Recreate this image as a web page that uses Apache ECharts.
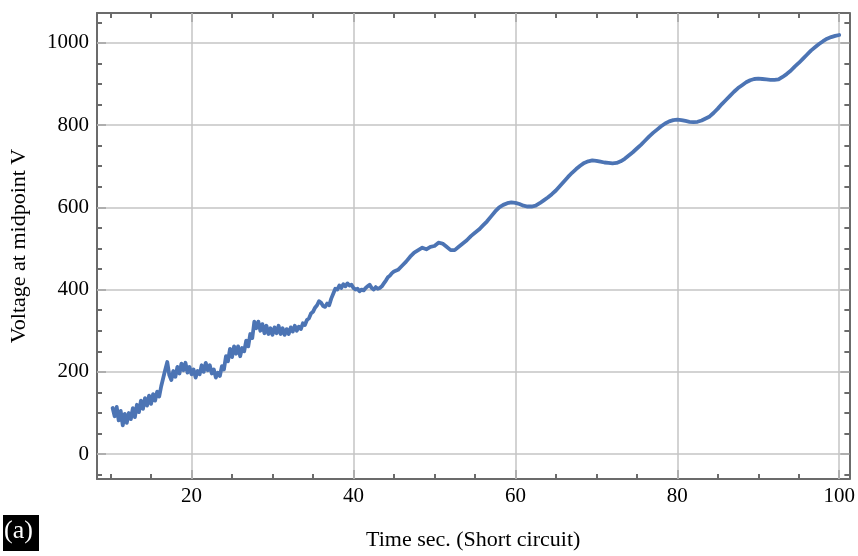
<!DOCTYPE html>
<html>
<head>
<meta charset="utf-8">
<script src="https://cdn.jsdelivr.net/npm/echarts@6/dist/echarts.min.js"></script>
<style>
html,body{margin:0;padding:0;background:#fff;}
#chart{width:858px;height:556px;}
</style>
</head>
<body>
<div id="chart"></div>
<script>
// ---- data ----
const time = [
10.25,10.5,10.75,11,11.25,11.5,11.75,12,12.25,12.5,12.75,13,13.25,13.5,13.75,14,14.25,14.5,14.75,15,
15.25,15.5,15.75,16,16.25,16.5,16.75,17,17.25,17.5,17.75,18,18.25,18.5,18.75,19,19.25,19.5,19.75,20,
20.25,20.5,20.75,21,21.25,21.5,21.75,22,22.25,22.5,22.75,23,23.25,23.5,23.75,24,24.25,24.5,24.75,25,
25.25,25.5,25.75,26,26.25,26.5,26.75,27,27.25,27.5,27.75,28,28.25,28.5,28.75,29,29.25,29.5,29.75,30,
30.25,30.5,30.75,31,31.25,31.5,31.75,32,32.25,32.5,32.75,33,33.25,33.5,33.75,34,34.25,34.5,34.75,35,
35.25,35.5,35.75,36,36.25,36.5,36.75,37,37.25,37.5,37.75,38,38.25,38.5,38.75,39,39.25,39.5,39.75,40,
40.25,40.5,40.75,41,41.25,41.5,41.75,42,42.25,42.5,42.75,43,43.25,43.5,43.75,44,44.25,44.5,44.75,45,
45.5,46,46.5,47,47.5,48,48.5,49,49.5,50,50.5,51,51.5,52,52.5,53,53.5,54,54.5,55,
55.5,56,56.5,57,57.5,58,58.5,59,59.5,60,60.5,61,61.5,62,62.5,63,63.5,64,64.5,65,
65.5,66,66.5,67,67.5,68,68.5,69,69.5,70,70.5,71,71.5,72,72.5,73,73.5,74,74.5,75,
75.5,76,76.5,77,77.5,78,78.5,79,79.5,80,80.5,81,81.5,82,82.5,83,83.5,84,84.5,85,
85.5,86,86.5,87,87.5,88,88.5,89,89.5,90,90.5,91,91.5,92,92.5,93,93.5,94,94.5,95,
95.5,96,96.5,97,97.5,98,98.5,99,99.5,100
];
const voltage = [
112,92,115,82,105,70,98,76,100,85,112,90,120,102,130,110,136,118,142,122,
146,130,152,140,165,185,205,224,192,180,202,188,212,196,220,204,222,198,212,194,
206,186,202,194,216,200,222,204,216,196,206,186,198,190,214,206,238,226,256,236,
262,244,262,238,258,250,276,262,292,282,322,306,322,300,316,294,312,292,306,290,
308,294,312,292,306,290,304,292,308,298,312,300,310,304,318,314,326,330,342,346,
356,362,372,368,360,358,366,362,378,390,402,400,410,404,413,408,415,410,412,404,
400,402,396,400,398,404,408,412,404,400,406,402,404,408,415,422,430,434,440,444,
448,458,468,480,490,496,502,498,504,506,514,512,504,496,496,504,512,520,530,538,
546,556,566,578,590,600,606,610,612,611,608,604,602,602,604,610,617,624,632,641,
652,663,674,684,693,701,708,712,714,713,711,709,708,707,708,712,718,726,734,743,
752,762,772,781,789,797,804,809,812,813,812,810,808,807,808,811,816,821,830,840,
851,861,871,881,890,897,904,909,912,913,912,911,910,910,911,917,924,932,942,951,
961,971,981,989,997,1004,1010,1014,1017,1019
];
const xTicks = [20, 40, 60, 80, 100];
const xMinorTicks = [10, 15, 25, 30, 35, 45, 50, 55, 65, 70, 75, 85, 90, 95];
const yTicks = [0, 200, 400, 600, 800, 1000];
const yMinorTicks = [-50, 50, 100, 150, 250, 300, 350, 450, 500, 550, 650, 700, 750, 850, 900, 950, 1050];

const points = time.map((t, i) => [t, voltage[i]]);

const XMIN = 8.32, XMAX = 101.25, YMIN = -60.5, YMAX = 1072.5;
const frameColor = '#6b6b6b';
const font = 'Liberation Serif';

function xAx(pos, custom, len, labels, line) {
  return {
    type: 'value', min: XMIN, max: XMAX, position: pos,
    axisLine: { show: line, onZero: false, lineStyle: { color: frameColor, width: 2 } },
    axisTick: { show: true, inside: true, length: len, customValues: custom, lineStyle: { color: frameColor, width: 2 } },
    axisLabel: labels ? { show: true, customValues: custom, color: '#000', fontFamily: font, fontSize: 21, margin: 7, formatter: v => String(v) } : { show: false },
    splitLine: { show: false },
    nameTextStyle: { fontFamily: font, fontSize: 22, color: '#000' }
  };
}
function yAx(pos, custom, len, labels, line) {
  return {
    type: 'value', min: YMIN, max: YMAX, position: pos,
    axisLine: { show: line, onZero: false, lineStyle: { color: frameColor, width: 2 } },
    axisTick: { show: true, inside: true, length: len, customValues: custom, lineStyle: { color: frameColor, width: 2 } },
    axisLabel: labels ? { show: true, customValues: custom, color: '#000', fontFamily: font, fontSize: 21, margin: 8, formatter: v => String(v) } : { show: false },
    splitLine: { show: false },
    nameTextStyle: { fontFamily: font, fontSize: 22, color: '#000' }
  };
}

const xAxes = [
  Object.assign(xAx('bottom', xTicks, 9, true, true), {
    name: 'Time sec. (Short circuit)', nameLocation: 'middle', nameGap: 50
  }),
  xAx('bottom', xMinorTicks, 5, false, false),
  xAx('top', xTicks, 9, false, true),
  xAx('top', xMinorTicks, 5, false, false)
];
const yAxes = [
  Object.assign(yAx('left', yTicks, 9, true, true), {
    name: 'Voltage at midpoint V', nameLocation: 'middle', nameGap: 67, nameRotate: 90
  }),
  yAx('left', yMinorTicks, 5, false, false),
  yAx('right', yTicks, 9, false, true),
  yAx('right', yMinorTicks, 5, false, false)
];

const gridLineData = xTicks.map(v => ({ xAxis: v })).concat(yTicks.map(v => ({ yAxis: v })));

const chart = echarts.init(document.getElementById('chart'), null, { renderer: 'canvas' });
chart.setOption({
  animation: false,
  backgroundColor: '#fff',
  grid: { left: 97, top: 13, width: 756, height: 469, containLabel: false },
  xAxis: xAxes,
  yAxis: yAxes,
  graphic: [
    { type: 'rect', left: 3, top: 515, shape: { width: 36, height: 36 }, style: { fill: '#000' } },
    { type: 'text', left: 4, top: 518, style: { text: '(a)', fill: '#fff', font: '26px "Liberation Serif"' } }
  ],
  series: [
    {
      type: 'line', data: [], xAxisIndex: 0, yAxisIndex: 0, silent: true,
      markLine: {
        silent: true, symbol: 'none', label: { show: false },
        lineStyle: { color: '#c4c4c4', width: 1.5, type: 'solid' },
        data: gridLineData
      }
    },
    {
      type: 'line', data: points, xAxisIndex: 0, yAxisIndex: 0,
      showSymbol: false, symbol: 'none', smooth: false,
      lineStyle: { color: '#4c74b4', width: 3.8, join: 'round', cap: 'round' },
      z: 5
    }
  ]
});
</script>
</body>
</html>
